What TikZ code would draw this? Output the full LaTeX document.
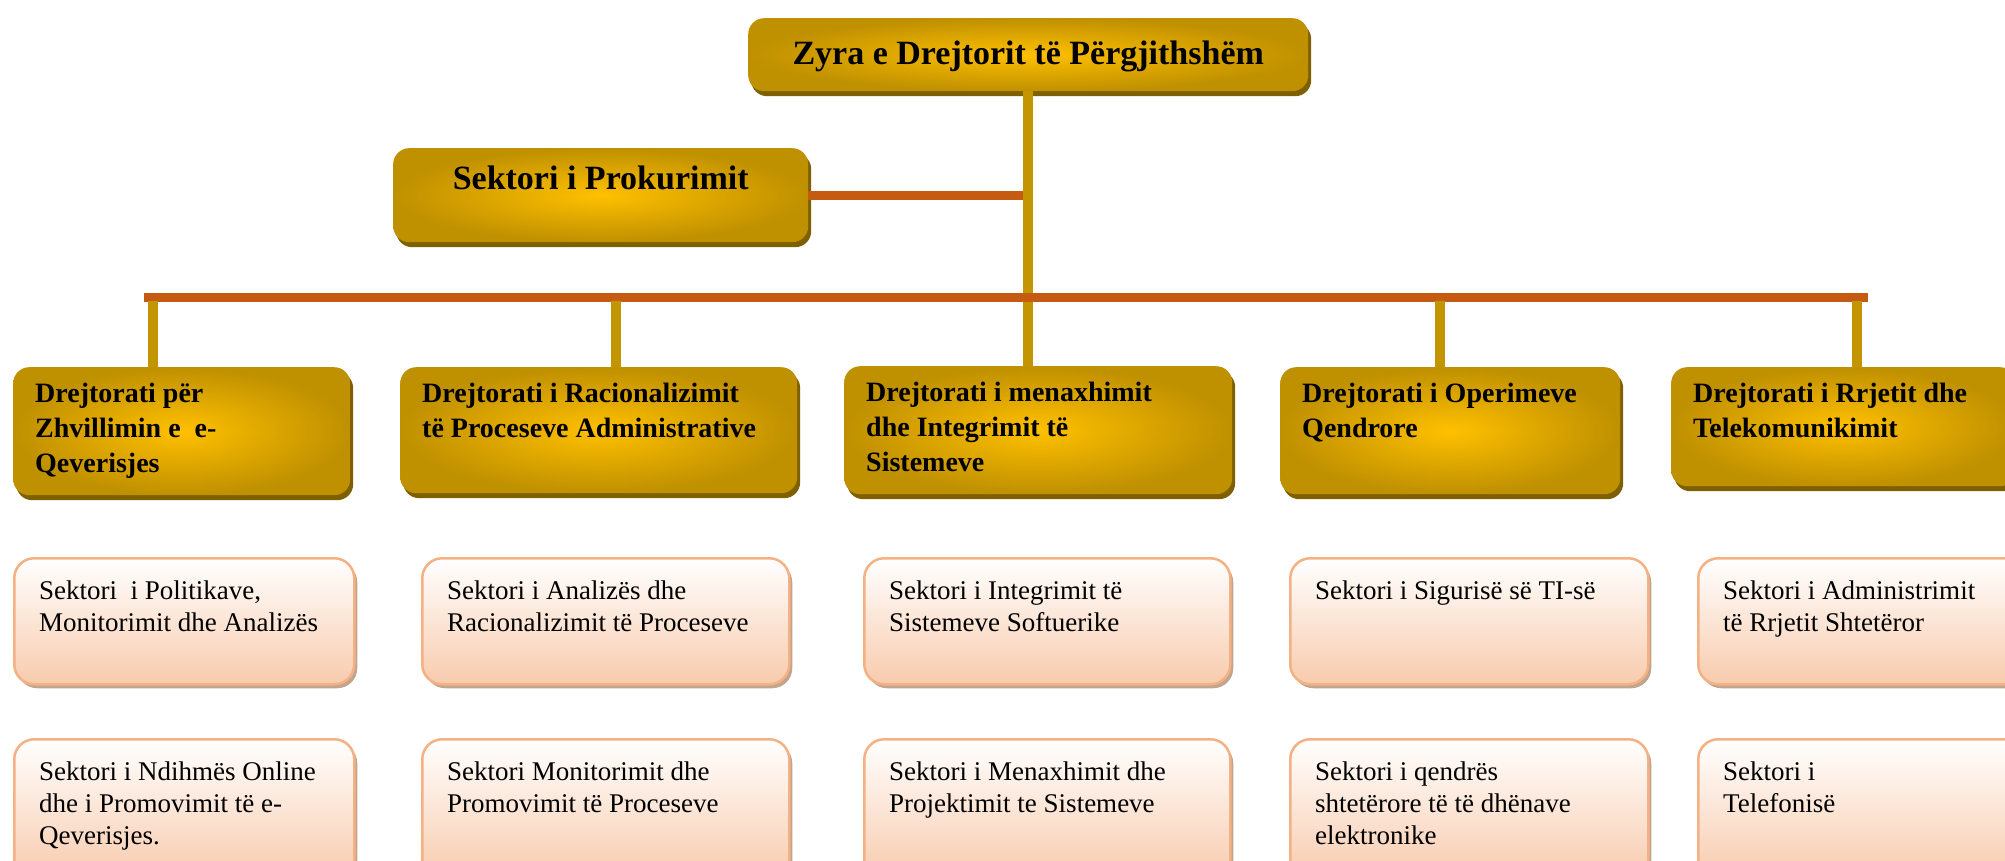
\documentclass[tikz,border=0pt]{standalone}
\usepackage{fontspec}
\setmainfont{Liberation Serif}
\usetikzlibrary{shadows}

\definecolor{goldhi}{HTML}{FFC000}
\definecolor{goldlo}{HTML}{BF9000}
\definecolor{goldshadow}{HTML}{7F6000}
\definecolor{goldline}{HTML}{C39500}
\definecolor{orangeline}{HTML}{C55A11}
\definecolor{peach}{HTML}{F8CBAD}
\definecolor{peachline}{HTML}{F4B183}
\definecolor{peachshadow}{HTML}{C2A58F}

\begin{document}
\begin{tikzpicture}[
    x=1pt, y=-1pt, % one unit = one pixel of the chart, y runs down
    gold line/.style={line width=10pt, draw=goldline},
    orange line/.style={line width=9pt, draw=orangeline},
    % gold boxes for the office and the directorates
    gold box/.style={anchor=north west, rounded corners=16pt, inner sep=0pt,
        inner color=goldhi, outer color=goldlo,
        drop shadow={shadow xshift=3pt, shadow yshift=-5pt, fill=goldshadow, opacity=1}},
    % light boxes for the sectors
    sector box/.style={anchor=north west, rounded corners=20pt, inner sep=0pt,
        top color=white, bottom color=peach, draw=peachline, line width=2.5pt,
        drop shadow={shadow xshift=3pt, shadow yshift=-4pt, fill=peachshadow, opacity=1}},
    head text/.style={anchor=north, inner sep=0pt, font=\fontsize{34}{40}\selectfont\bfseries},
    dir text/.style={anchor=north west, align=left, inner sep=0pt, xshift=22pt, yshift=-16pt,
        font=\fontsize{28}{35}\selectfont\bfseries},
    sec text/.style={anchor=north west, align=left, inner sep=0pt, xshift=26pt, yshift=-24pt,
        font=\fontsize{27}{32}\selectfont}
]
    \useasboundingbox (0,0) rectangle (2005,861);

    % === Top office and procurement ===
    \node[gold box, minimum width=560, minimum height=73,
        label={[head text, yshift=-23pt]north:Zyra e Drejtorit të Përgjithshëm}] (top_box) at (748,18) {};
    \node[gold box, minimum width=415, minimum height=94,
        label={[head text, yshift=-18pt]north:Sektori i Prokurimit}] (proc_box) at (393,148) {};

    % === Directorates ===
    \node[gold box, minimum width=337, minimum height=128,
        label={[dir text]north west:{Drejtorati për\\Zhvillimin e \ e-\\Qeverisjes}}] (dir1) at (13,367) {};
    \node[gold box, minimum width=397, minimum height=126,
        label={[dir text]north west:{Drejtorati i Racionalizimit\\të Proceseve Administrative}}] (dir2) at (400,367) {};
    \node[gold box, minimum width=388, minimum height=128,
        label={[dir text]north west:{Drejtorati i menaxhimit\\dhe Integrimit të\\Sistemeve}}] (dir3) at (844,366) {};
    \node[gold box, minimum width=340, minimum height=127,
        label={[dir text]north west:{Drejtorati i Operimeve\\Qendrore}}] (dir4) at (1280,367) {};
    \node[gold box, minimum width=345, minimum height=119,
        label={[dir text]north west:{Drejtorati i Rrjetit dhe\\Telekomunikimit}}] (dir5) at (1671,367) {};

    % === Sectors, first row ===
    \node[sector box, minimum width=340, minimum height=126,
        label={[sec text]north west:{Sektori \ i Politikave,\\Monitorimit dhe Analizës}}] (sec1a) at (13,557) {};
    \node[sector box, minimum width=367, minimum height=126,
        label={[sec text]north west:{Sektori i Analizës dhe\\Racionalizimit të Proceseve}}] (sec2a) at (421,557) {};
    \node[sector box, minimum width=366, minimum height=126,
        label={[sec text]north west:{Sektori i Integrimit të\\Sistemeve Softuerike}}] (sec3a) at (863,557) {};
    \node[sector box, minimum width=358, minimum height=126,
        label={[sec text]north west:{Sektori i Sigurisë së TI-së}}] (sec4a) at (1289,557) {};
    \node[sector box, minimum width=330, minimum height=126,
        label={[sec text]north west:{Sektori i Administrimit\\të Rrjetit Shtetëror}}] (sec5a) at (1697,557) {};

    % === Sectors, second row ===
    \node[sector box, minimum width=340, minimum height=140,
        label={[sec text]north west:{Sektori i Ndihmës Online\\dhe i Promovimit të e-\\Qeverisjes.}}] (sec1b) at (13,738) {};
    \node[sector box, minimum width=367, minimum height=140,
        label={[sec text]north west:{Sektori Monitorimit dhe\\Promovimit të Proceseve}}] (sec2b) at (421,738) {};
    \node[sector box, minimum width=366, minimum height=140,
        label={[sec text]north west:{Sektori i Menaxhimit dhe\\Projektimit te Sistemeve}}] (sec3b) at (863,738) {};
    \node[sector box, minimum width=358, minimum height=140,
        label={[sec text]north west:{Sektori i qendrës\\shtetërore të të dhënave\\elektronike}}] (sec4b) at (1289,738) {};
    \node[sector box, minimum width=330, minimum height=140,
        label={[sec text]north west:{Sektori i\\Telefonisë}}] (sec5b) at (1697,738) {};

    % === Connectors ===
    \coordinate (bar_l) at (144,297);
    \coordinate (bar_r) at (1868,297);
    \coordinate (j1) at (153,297);
    \coordinate (j2) at (616,297);
    \coordinate (j4) at (1440,297);
    \coordinate (j5) at (1857,297);

    \draw[orange line] (proc_box.east) -- (proc_box.east -| top_box.south);
    \draw[gold line] (top_box.south) -- (top_box.south |- dir3.north);
    \draw[orange line] (bar_l) -- (bar_r);
    \foreach \j/\d in {j1/dir1, j2/dir2, j4/dir4, j5/dir5}
        \draw[gold line] ([yshift=-4pt]\j) -- (\j |- \d.north);

\end{tikzpicture}
\end{document}
